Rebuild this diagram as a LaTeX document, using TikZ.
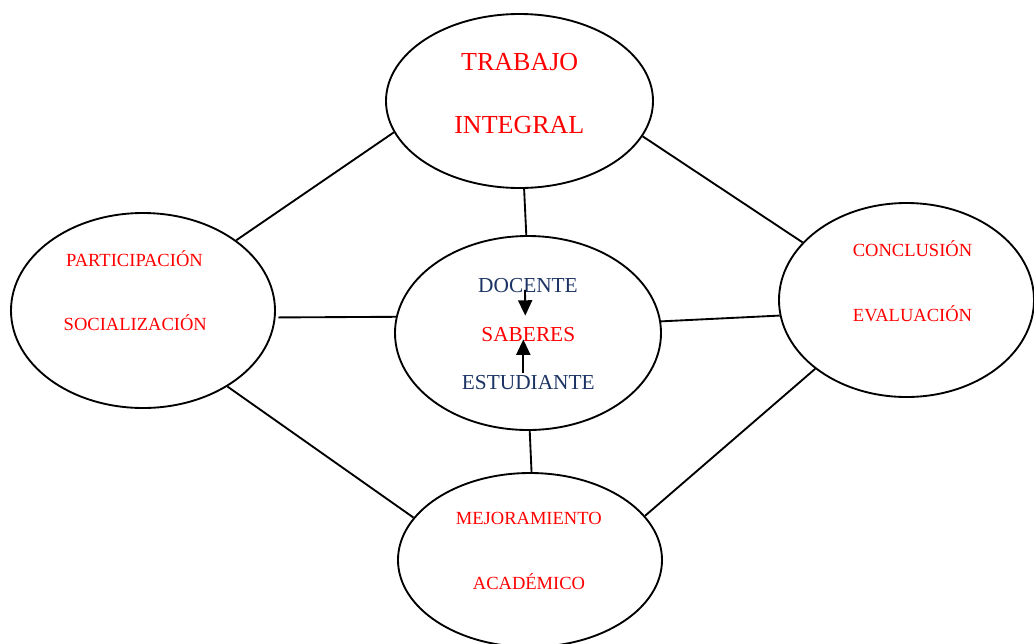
\documentclass[tikz,border=0pt]{standalone}
\usepackage{fontspec}
\setmainfont{Liberation Serif}
\usepackage{tikz}
\usetikzlibrary{shapes,arrows.meta}
\definecolor{azulosc}{RGB}{28,52,100}
\tikzset{
  elipse/.style 2 args={draw,ellipse,line width=1.4pt,inner sep=0pt,minimum width=#1,minimum height=#2},
  rojo/.style={text=red,inner sep=0pt,anchor=base,font=\fontsize{13.9pt}{16pt}\selectfont},
  rojogr/.style={text=red,inner sep=0pt,anchor=base,font=\fontsize{19.5pt}{22pt}\selectfont},
  azul/.style={text=azulosc,inner sep=0pt,anchor=base,font=\fontsize{16pt}{19pt}\selectfont},
  rojomed/.style={text=red,inner sep=0pt,anchor=base,font=\fontsize{16pt}{19pt}\selectfont},
  linea/.style={line width=1.4pt},
  flecha/.style={line width=1.4pt,-{Triangle[length=11.5pt,width=10.5pt]}}
}
\begin{document}
\begin{tikzpicture}[x=0.75pt,y=-0.75pt]
\useasboundingbox (0,0) rectangle (1034,643);
\node[elipse={200.25pt}{130.5pt}] (trabajo) at (519.5,101) {};
\node[elipse={198pt}{146.25pt}] (particip) at (143,310.5) {};
\node[elipse={199.5pt}{145.5pt}] (centro) at (528,333) {};
\node[elipse={191.25pt}{145.5pt}] (conclusion) at (906.5,300) {};
\node[elipse={198pt}{130.5pt}] (mejora) at (530,560) {};
\node[rojogr] (tTrabajo) at (519.7,70.7) {TRABAJO};
\node[rojogr] (tIntegral) at (519.3,133) {INTEGRAL};
\node[rojo] (tPartic) at (134.5,266) {PARTICIPACIÓN};
\node[rojo] (tSocial) at (135.3,330.7) {SOCIALIZACIÓN};
\node[rojo] (tConcl) at (912.5,256.7) {CONCLUSIÓN};
\node[rojo] (tEval) at (912.5,321.7) {EVALUACIÓN};
\node[rojo] (tMejora) at (528.8,524.3) {MEJORAMIENTO};
\node[rojo] (tAcad) at (529,589.3) {ACADÉMICO};
\node[azul] (docente) at (528,292.3) {DOCENTE};
\node[rojomed] (saberes) at (528.3,341) {SABERES};
\node[azul] (estudiante) at (528.3,389.3) {ESTUDIANTE};
\draw[flecha] ([shift={(-3,-3)}]docente.south) -- ([shift={(-3,-11)}]saberes.north);
\draw[flecha] ([shift={(-5,-2)}]estudiante.north) -- ([shift={(-5,-2)}]saberes.south);
\draw[linea] (trabajo.194.7) -- (particip.37.9);
\draw[linea] (trabajo.344.7) -- (conclusion.151.5);
\draw[linea] (trabajo.273) -- (centro.91.2);
\draw[linea,shorten <=2pt] (particip.-3.3) -- (centro.173.5);
\draw[linea] (centro.5.2) -- (conclusion.187.6);
\draw[linea] (centro.271.2) -- (mejora.89);
\draw[linea] (particip.-42) -- (mejora.160.7);
\draw[linea] (conclusion.217.5) -- (mejora.21.9);
\end{tikzpicture}
\end{document}
